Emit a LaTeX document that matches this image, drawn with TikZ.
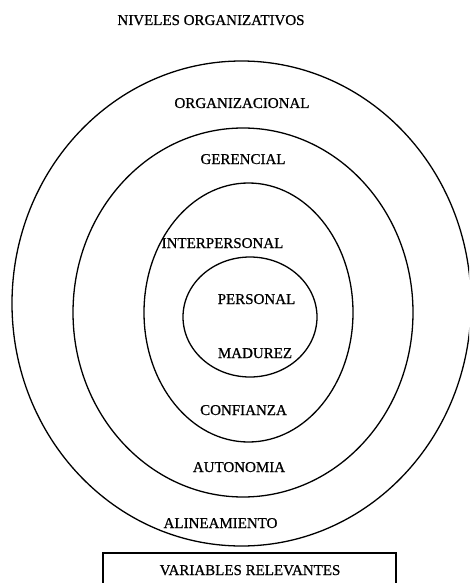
\documentclass[tikz,border=0pt]{standalone}
\usepackage{fontspec}
\setmainfont[FakeBold=0.8]{Liberation Serif}
\begin{document}
\begin{tikzpicture}[x=1pt,y=-1pt,
  ring/.style={draw=black,line width=1.3pt},
  lbl/.style={inner sep=0pt,text height=10pt,text depth=0pt,font=\fontsize{15}{17}\selectfont}]
\useasboundingbox (0,0) rectangle (469,583);
\clip (0,0) rectangle (469,583);
\fill[white] (0,0) rectangle (469,583);
\draw[ring] (241.5,303.5) ellipse [x radius=229.5, y radius=242.5];
\draw[ring] (243,312.5) ellipse [x radius=170, y radius=184.5];
\draw[ring] (248.5,312.5) ellipse [x radius=104.5, y radius=129.5];
\draw[ring] (250,317) ellipse [x radius=67, y radius=60];
\draw[line width=1.3pt] (103,590) -- (103,553) -- (396,553) -- (396,590);
\node[lbl] (t0) at (211,20) {NIVELES ORGANIZATIVOS};
\node[lbl] (t1) at (242,103) {ORGANIZACIONAL};
\node[lbl] (t2) at (243,159) {GERENCIAL};
\node[lbl] (t3) at (222.5,243) {INTERPERSONAL};
\node[lbl] (t4) at (256.5,299) {PERSONAL};
\node[lbl] (t5) at (255,353) {MADUREZ};
\node[lbl] (t6) at (243.5,410) {CONFIANZA};
\node[lbl] (t7) at (239,467) {AUTONOMIA};
\node[lbl] (t8) at (220.5,523) {ALINEAMIENTO};
\node[lbl] (t9) at (250,570) {VARIABLES RELEVANTES};
\end{tikzpicture}
\end{document}
